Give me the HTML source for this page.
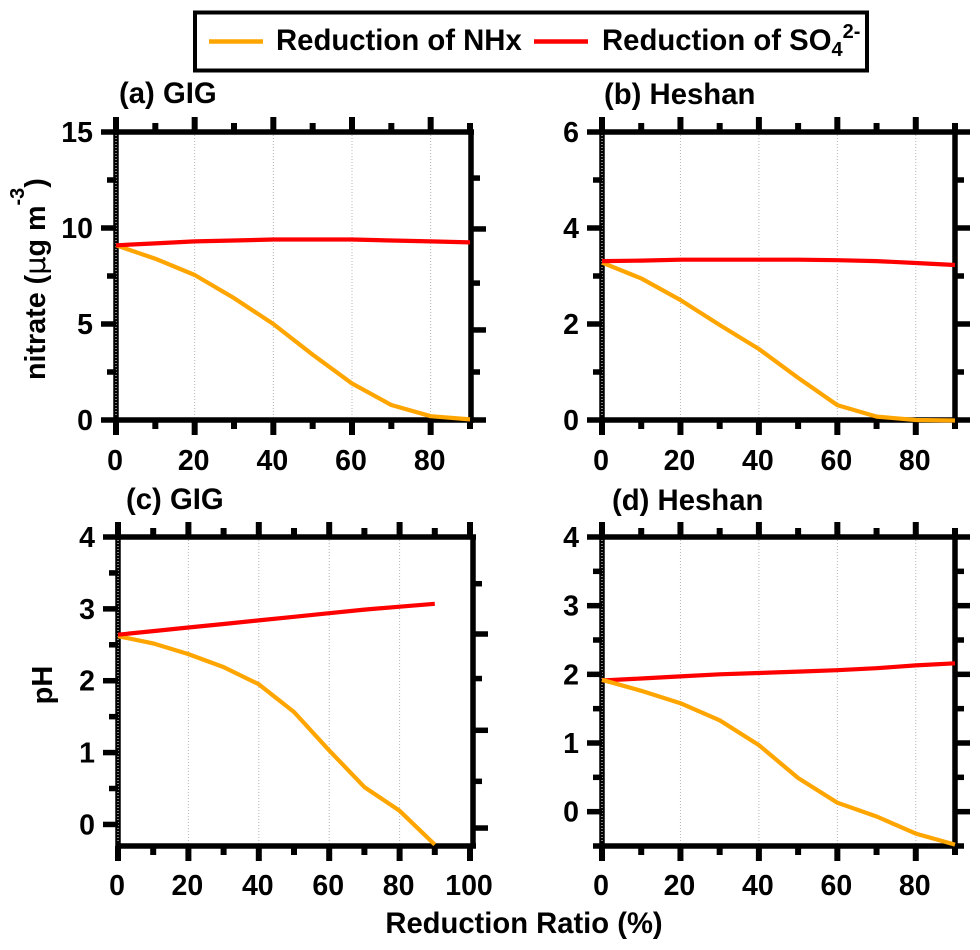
<!DOCTYPE html>
<html lang="en">
<head>
<meta charset="utf-8">
<title>Nitrate and pH response to NHx and SO4 reduction</title>
<style>
html,body{margin:0;padding:0;background:#fff;width:980px;height:950px;overflow:hidden}
svg{display:block}
text{font-family:"Liberation Sans",sans-serif;font-weight:bold;fill:#000}
</style>
</head>
<body>
<svg id="chart" xmlns="http://www.w3.org/2000/svg" width="980" height="950" viewBox="0 0 980 950">
  <rect x="0" y="0" width="980" height="950" fill="#fff"/>
  <g>
    <rect x="195" y="12.500" width="672" height="58" fill="#fff" stroke="#000" stroke-width="4"/>
    <line x1="209" y1="41.500" x2="263" y2="41.500" stroke="#ffa500" stroke-width="4.500"/>
    <text x="276" y="50" font-size="29.300">Reduction of NHx</text>
    <line x1="534" y1="41.500" x2="588" y2="41.500" stroke="#ff0000" stroke-width="4.500"/>
    <text x="602" y="50" font-size="29.300">Reduction of SO<tspan font-size="20" dy="6">4</tspan><tspan font-size="20" dy="-18">2-</tspan></text>
  </g>
  <text transform="translate(45,380) rotate(-90)" x="0" y="0" font-size="28.700">nitrate (<tspan font-family="'DejaVu Sans',sans-serif" font-weight="normal">μ</tspan>g m<tspan font-size="20" dy="-21">-3</tspan><tspan dy="21">)</tspan></text>
  <text transform="translate(52,685) rotate(-90)" x="0" y="0" font-size="29" text-anchor="middle">pH</text>
  <text x="524" y="933" font-size="29.200" text-anchor="middle">Reduction Ratio (%)</text>
</svg>
<script>
var reductionRatio = [0,10,20,30,40,50,60,70,80,90];

var nitrateGigNhx = [9.1,8.4,7.55,6.35,5.0,3.4,1.9,0.78,0.2,0.03];
var nitrateGigSo4 = [9.1,9.2,9.3,9.35,9.4,9.4,9.4,9.35,9.3,9.25];
var nitrateHeshanNhx = [3.28,2.95,2.5,1.98,1.48,0.88,0.31,0.07,0.0,-0.01];
var nitrateHeshanSo4 = [3.31,3.32,3.34,3.34,3.34,3.34,3.33,3.31,3.27,3.23];
var phGigNhx = [2.62,2.52,2.37,2.19,1.95,1.565,1.03,0.52,0.19,-0.28];
var phGigSo4 = [2.64,2.69,2.74,2.79,2.84,2.89,2.94,2.99,3.03,3.07];
var phHeshanNhx = [1.92,1.76,1.58,1.33,0.97,0.49,0.13,-0.07,-0.32,-0.48];
var phHeshanSo4 = [1.91,1.94,1.97,2.0,2.02,2.04,2.06,2.09,2.13,2.16];

var yMajorA = [0,5,10,15];
var yMinorA = [2.5,7.5,12.5];
var yMajorB = [0,2,4,6];
var yMinorB = [1,3,5];
var yMajorPh = [0,1,2,3,4];
var yMinorPhC = [0.5,1.5,2.5,3.5];
var yMinorPhD = [-0.5,0.5,1.5,2.5,3.5];

var rightMajorA = [9.95,4.69,0];
var rightMinorA = [12.6,7.13,2.5];
var rightMajorC = [2.65,1.31,-0.05];
var rightMinorC = [3.35,2.03,0.6];

var xMajorA = [0,20,40,60,80];
var xMinorA = [10,30,50,70,90];
var xMajorC = [0,20,40,60,80,100];
var xMinorC = [10,30,50,70,90];

var panels = [
  {id:'a', title:'(a) GIG', tx:119, ty:103, px0:116, px1:470, spine:471, top:132, bottom:420, xMax:90, yMin:0, yMax:15, yMaj:yMajorA, yMin2:yMinorA, rMaj:rightMajorA, rMin:rightMinorA, xMaj:xMajorA, xMin2:xMinorA, nhx:nitrateGigNhx, so4:nitrateGigSo4, orangeOnTop:false},
  {id:'b', title:'(b) Heshan', tx:604, ty:104, px0:602, px1:955, spine:955, top:132, bottom:420, xMax:90, yMin:0, yMax:6, yMaj:yMajorB, yMin2:yMinorB, rMaj:yMajorB, rMin:yMinorB, xMaj:xMajorA, xMin2:xMinorA, nhx:nitrateHeshanNhx, so4:nitrateHeshanSo4, orangeOnTop:false},
  {id:'c', title:'(c) GIG', tx:126, ty:509, px0:118, px1:470, spine:473, top:537, bottom:846, xMax:100, yMin:-0.3, yMax:4, yMaj:yMajorPh, yMin2:yMinorPhC, rMaj:rightMajorC, rMin:rightMinorC, xMaj:xMajorC, xMin2:xMinorC, nhx:phGigNhx, so4:phGigSo4, orangeOnTop:false},
  {id:'d', title:'(d) Heshan', tx:612, ty:510, px0:602, px1:955, spine:955, top:537, bottom:846, xMax:90, yMin:-0.5, yMax:4, yMaj:yMajorPh, yMin2:yMinorPhD, rMaj:yMajorPh, rMin:yMinorPhD, xMaj:xMajorA, xMin2:xMinorA, nhx:phHeshanNhx, so4:phHeshanSo4, orangeOnTop:true}
];

var NS = 'http://www.w3.org/2000/svg';
var svg = document.getElementById('chart');

function make(tag, attrs, parent) {
  var el = document.createElementNS(NS, tag);
  for (var k in attrs) { el.setAttribute(k, attrs[k]); }
  parent.appendChild(el);
  return el;
}

function drawLine(parent, name, x1, y1, x2, y2, color, width, dash) {
  var attrs = {x1:x1, y1:y1, x2:x2, y2:y2, stroke:color, 'stroke-width':width};
  if (dash) { attrs['stroke-dasharray'] = dash; }
  var el = make('line', attrs, parent);
  
  
  return el;
}

function drawText(parent, name, x, y, str, anchor, size) {
  var el = make('text', {x:x, y:y, 'text-anchor':anchor, 'font-size':size}, parent);
  el.textContent = str;
  
  
  return el;
}

function drawSeries(parent, name, xs, ys, xScale, yScale, color) {
  var pts = [];
  for (var i = 0; i < xs.length; i++) {
    pts.push(xScale(xs[i]).toFixed(1) + ',' + yScale(ys[i]).toFixed(1));
  }
  var el = make('polyline', {points:pts.join(' '), fill:'none', stroke:color, 'stroke-width':4.2, 'stroke-linejoin':'round'}, parent);
  
  
}

function drawPanel(p) {
  var g = make('g', {}, svg);
  
  

  var xScale = function (v) { return p.px0 + (p.px1 - p.px0) * v / p.xMax; };
  var yScale = function (v) { return p.bottom - (p.bottom - p.top) * (v - p.yMin) / (p.yMax - p.yMin); };

  drawText(g, 'panel-title-' + p.id, p.tx, p.ty, p.title, 'start', 29.3);

  p.xMaj.forEach(function (v) {
    if (v > 0 && v < p.xMax) {
      drawLine(g, 'x-gridline', xScale(v), p.top, xScale(v), p.bottom, '#b4b4b4', 1, '1 2');
    }
  });

  var left = p.px0;
  var right = p.spine;
  drawLine(g, 'top-spine', left - 2, p.top, right + 3, p.top, '#000', 5.5);
  drawLine(g, 'bottom-spine', left - 2, p.bottom, right + 3, p.bottom, '#000', 5.5);
  drawLine(g, 'left-spine', left, p.top, left, p.bottom, '#000', 5.5);
  drawLine(g, 'right-spine', right, p.top, right, p.bottom, '#000', 5.5);
  drawLine(g, 'left-spine-dots', left, p.top + 3, left, p.bottom - 3, '#fff', 1, '1 2');

  p.xMaj.forEach(function (v) {
    drawLine(g, 'x-tick-major-top', xScale(v), p.top, xScale(v), p.top - 15, '#000', 6);
    drawLine(g, 'x-tick-major-bottom', xScale(v), p.bottom, xScale(v), p.bottom + 15, '#000', 6);
    drawText(g, 'x-tick-label', xScale(v) - 1, p.bottom + (p.top === 132 ? 50 : 49), String(v), 'middle', 28.5);
  });
  p.xMin2.forEach(function (v) {
    drawLine(g, 'x-tick-minor-top', xScale(v), p.top, xScale(v), p.top - 9, '#000', 6);
    drawLine(g, 'x-tick-minor-bottom', xScale(v), p.bottom, xScale(v), p.bottom + 9, '#000', 6);
  });

  p.yMaj.forEach(function (v) {
    drawLine(g, 'y-tick-major-left', left, yScale(v), left - 15, yScale(v), '#000', 5.5);
    drawText(g, 'y-tick-label', left - 23, yScale(v) + 10, String(v), 'end', 28.5);
  });
  p.yMin2.forEach(function (v) {
    drawLine(g, 'y-tick-minor-left', left, yScale(v), left - 9, yScale(v), '#000', 5.5);
  });
  p.rMaj.forEach(function (v) {
    drawLine(g, 'y-tick-major-right', right, yScale(v), right + 15, yScale(v), '#000', 5.5);
  });
  p.rMin.forEach(function (v) {
    drawLine(g, 'y-tick-minor-right', right, yScale(v), right + 9, yScale(v), '#000', 5.5);
  });

  if (p.orangeOnTop) {
    drawSeries(g, 'series-so4-' + p.id, reductionRatio, p.so4, xScale, yScale, '#ff0000');
    drawSeries(g, 'series-nhx-' + p.id, reductionRatio, p.nhx, xScale, yScale, '#ffa500');
  } else {
    drawSeries(g, 'series-nhx-' + p.id, reductionRatio, p.nhx, xScale, yScale, '#ffa500');
    drawSeries(g, 'series-so4-' + p.id, reductionRatio, p.so4, xScale, yScale, '#ff0000');
  }
}

panels.forEach(drawPanel);
</script>
</body>
</html>
